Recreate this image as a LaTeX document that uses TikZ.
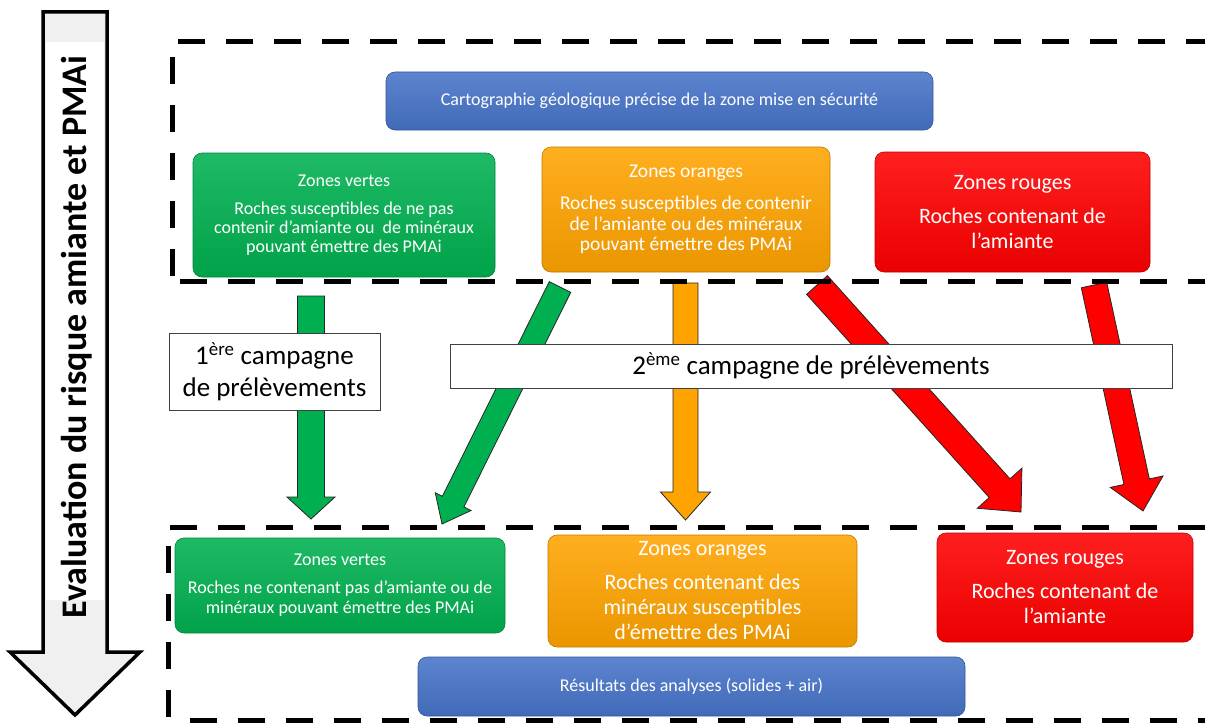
\documentclass[tikz,border=0pt]{standalone}
\usepackage{fontspec}
\setmainfont{Carlito}
\usetikzlibrary{calc}
\definecolor{zgreen}{RGB}{0,176,80}
\definecolor{zorange}{RGB}{255,163,0}
\definecolor{zred}{RGB}{255,0,0}
\definecolor{zblue}{RGB}{70,115,200}
\definecolor{agray}{RGB}{240,240,240}
\tikzset{
  zbox/.style={rounded corners=9pt, draw=#1!75!black, line width=0.6pt,
    top color=#1!88!white, bottom color=#1!92!black, text=white,
    align=center, inner sep=0pt},
  campbox/.style={draw=black!75, line width=1pt, fill=white, align=center,
    inner sep=0pt, font=\fontsize{27}{32}\selectfont},
  dashline/.style={line width=5pt, dash pattern=on 27pt off 21pt},
  fatoutline/.style={draw=black!85, line width=0.8pt, line join=miter}
}
\newcommand{\fatarrow}[6]{%
  \coordinate (fa-h) at ($(#2)!#5!(#1)$);
  \filldraw[fatoutline, fill=#6]
    ($(#1)!#3!90:(#2)$) -- ($(fa-h)!#3!90:(#2)$) -- ($(fa-h)!#4!90:(#2)$) -- (#2)
    -- ($(fa-h)!#4!-90:(#2)$) -- ($(fa-h)!#3!-90:(#2)$) -- ($(#1)!#3!-90:(#2)$) -- cycle;
}
\begin{document}
\begin{tikzpicture}[x=1pt, y=-1pt]
\useasboundingbox (0,0) rectangle (1205,725);

% big left arrow
\fill[agray] (43,12) -- (107,12) -- (107,652) -- (140,652) -- (75,715) -- (10,652) -- (43,652) -- cycle;
\fill[white] (46,42) rectangle (104,600);
\draw[line width=3.5pt, line join=miter] (43,12) -- (107,12) -- (107,652) -- (140,652) -- (75,715) -- (10,652) -- (43,652) -- cycle;
\node[rotate=90, font=\bfseries\fontsize{36}{40}\selectfont, inner sep=0pt] (evallabel) at (77,337) {Evaluation du risque amiante et PMAi};

% top boxes
\node[zbox=zblue, minimum width=547pt, minimum height=58pt, font=\fontsize{18}{20}\selectfont] (carto) at (659.5,101) {Cartographie géologique précise de la zone mise en sécurité};
\node[zbox=zgreen, minimum width=302pt, minimum height=124pt, font=\fontsize{18}{19}\selectfont] (gtop) at (344,215)
  {Zones vertes\\[9pt]Roches susceptibles de ne pas\\contenir d’amiante ou~ de minéraux\\pouvant émettre des PMAi};
\node[zbox=zorange, minimum width=288pt, minimum height=125pt, font=\fontsize{19.5}{20.5}\selectfont] (otop) at (686,209.5)
  {Zones oranges\\[12pt]Roches susceptibles de contenir\\de l’amiante ou des minéraux\\pouvant émettre des PMAi};
\node[zbox=zred, minimum width=275pt, minimum height=120pt, font=\fontsize{22}{25}\selectfont] (rtop) at (1012.5,212)
  {Zones rouges\\[9pt]Roches contenant de\\l’amiante};

% bottom boxes
\node[zbox=zgreen, minimum width=330pt, minimum height=95pt, font=\fontsize{18}{20}\selectfont] (gbot) at (340,585.5)
  {Zones vertes\\[8pt]Roches ne contenant pas d’amiante ou de\\minéraux pouvant émettre des PMAi};
\node[zbox=zorange, minimum width=309pt, minimum height=112pt, font=\fontsize{22}{25}\selectfont] (obot) at (702.5,591)
  {Zones oranges\\[9pt]Roches contenant des\\minéraux susceptibles\\d’émettre des PMAi};
\node[zbox=zred, minimum width=256pt, minimum height=109pt, font=\fontsize{22}{25}\selectfont] (rbot) at (1065,587.5)
  {Zones rouges\\[9pt]Roches contenant de\\l’amiante};
\node[zbox=zblue, minimum width=547pt, minimum height=59pt, font=\fontsize{18}{20}\selectfont] (resu) at (691.5,686.5) {Résultats des analyses (solides + air)};

% arrow end points
\coordinate (ga1) at (311,296);  \coordinate (ga2) at (311,519);
\coordinate (gb1) at (560,287);  \coordinate (gb2) at (442,524);
\coordinate (oa1) at (685.5,283); \coordinate (oa2) at (685.5,520);
\coordinate (ra1) at (817,285);  \coordinate (ra2) at (1021,512);
\coordinate (rb1) at (1094,285); \coordinate (rb2) at (1143,511);

\fatarrow{ga1}{ga2}{13.5pt}{24pt}{22pt}{zgreen}
\fatarrow{gb1}{gb2}{12pt}{20pt}{25pt}{zgreen}
\fatarrow{oa1}{oa2}{12.5pt}{25pt}{28pt}{zorange}
\fatarrow{ra1}{ra2}{14pt}{30pt}{32pt}{zred}
\fatarrow{rb1}{rb2}{13pt}{27pt}{30pt}{zred}

% campaign labels
\node[campbox, minimum width=211pt, minimum height=77pt] (camp1) at (274.5,372) {1\textsuperscript{ère} campagne\\de prélèvements};
\node[campbox, minimum width=722pt, minimum height=44pt] (camp2) at (811,366) {2\textsuperscript{ème} campagne de prélèvements};

% dashed frames
\draw[dashline] (172,276) -- (172,42) -- (1205,42);
\draw[dashline] (180,281) -- (1205,281);
\draw[dashline] (1205,527) -- (168,527) -- (168,725);
\draw[dashline] (190,720) -- (1205,720);
\end{tikzpicture}
\end{document}
